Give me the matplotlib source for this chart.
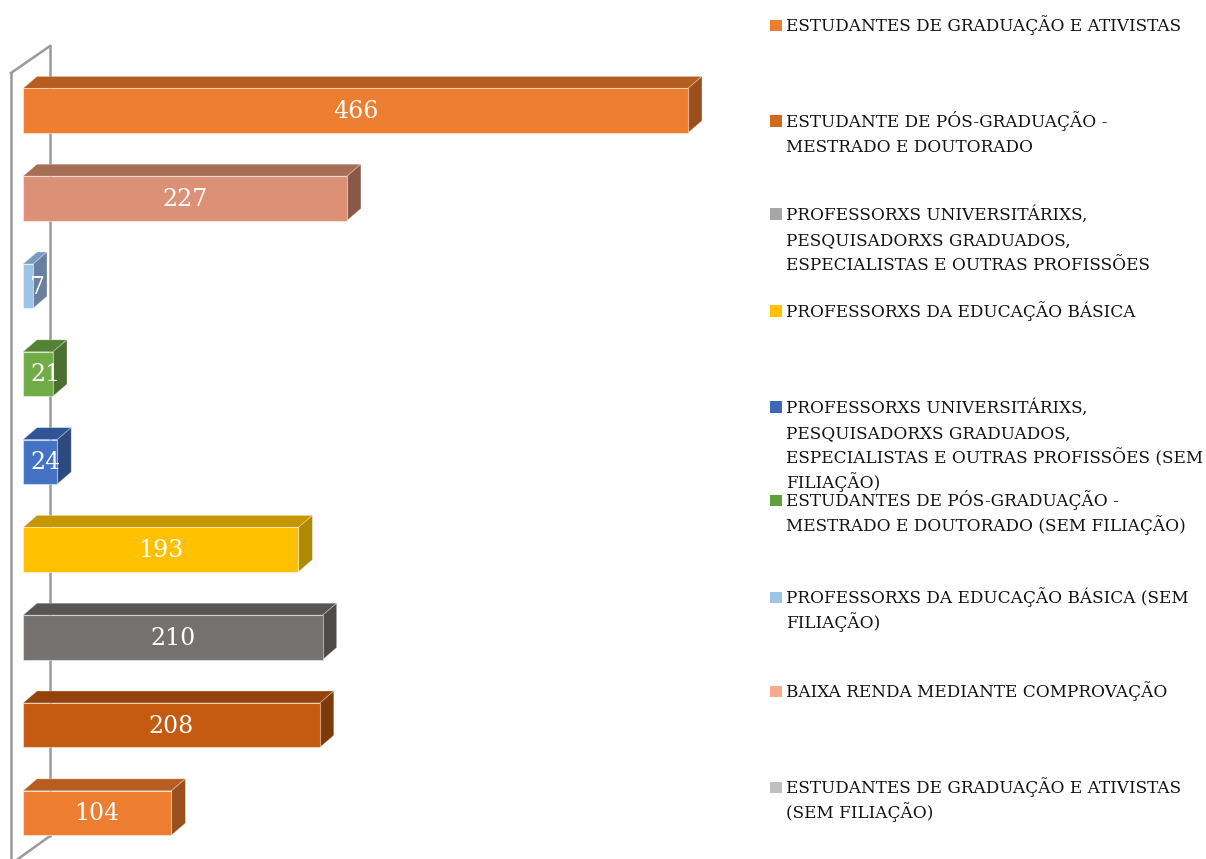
import matplotlib
matplotlib.use("Agg")
import matplotlib.pyplot as plt
from matplotlib.patches import Polygon, Rectangle
from matplotlib.lines import Line2D

# ---------------- data (bottom bar first) ----------------
values = [104, 208, 210, 193, 24, 21, 7, 227, 466]
front_colors = ["#ED7D31", "#C55A11", "#767171", "#FFC000", "#4472C4",
                "#70AD47", "#9DC3E6", "#DC9176", "#ED7D31"]
top_colors = ["#B65E22", "#96420C", "#5A5555", "#C89700", "#2F5597",
              "#548235", "#7A9BBE", "#A66E57", "#B65E22"]
side_colors = ["#9A4F1C", "#7F3A0B", "#4E4A4A", "#B08A00", "#2C4A7E",
               "#4A6F2F", "#6880A0", "#8B5848", "#9A4F1C"]

legend_labels = [
    "ESTUDANTES DE GRADUAÇÃO E ATIVISTAS",
    "ESTUDANTE DE PÓS-GRADUAÇÃO -\nMESTRADO E DOUTORADO",
    "PROFESSORXS UNIVERSITÁRIXS,\nPESQUISADORXS GRADUADOS,\nESPECIALISTAS E OUTRAS PROFISSÕES",
    "PROFESSORXS DA EDUCAÇÃO BÁSICA",
    "PROFESSORXS UNIVERSITÁRIXS,\nPESQUISADORXS GRADUADOS,\nESPECIALISTAS E OUTRAS PROFISSÕES (SEM\nFILIAÇÃO)",
    "ESTUDANTES DE PÓS-GRADUAÇÃO -\nMESTRADO E DOUTORADO (SEM FILIAÇÃO)",
    "PROFESSORXS DA EDUCAÇÃO BÁSICA (SEM\nFILIAÇÃO)",
    "BAIXA RENDA MEDIANTE COMPROVAÇÃO",
    "ESTUDANTES DE GRADUAÇÃO E ATIVISTAS\n(SEM FILIAÇÃO)",
]
legend_colors = ["#ED7D31", "#D2691F", "#A5A5A5", "#FFC000", "#3E67B4",
                 "#5FA03A", "#9DC3E6", "#F4AC8C", "#BFBFBF"]

# ---------------- layout ----------------
W, H = 1206, 859
fig = plt.figure(figsize=(W / 100, H / 100), dpi=100)
fig.patch.set_facecolor("white")

px_per_unit = 1.427
x_left_px = 23
x0 = -x_left_px / px_per_unit
x1 = x0 + W / px_per_unit
spacing_px = 87.8
bottom_center_px = H - 813  # from bottom
y0 = -bottom_center_px / spacing_px
y1 = y0 + H / spacing_px

ax = fig.add_axes([0, 0, 1, 1])
ax.set_xlim(x0, x1)
ax.set_ylim(y0, y1)
ax.axis("off")

def px(xp, yp_top):
    return xp / 100, (H - yp_top) / 100

# wall lines, drawn behind the bars
wall_color = "#9a9a9a"
for (xa, ya), (xb, yb) in [((11, 73), (11, 859)), ((11, 73), (50, 46)),
                           ((50, 46), (50, 836)), ((50, 836), (18, 859))]:
    a = px(xa, ya); b = px(xb, yb)
    ax.add_line(Line2D([a[0], b[0]], [a[1], b[1]], transform=fig.dpi_scale_trans,
                       color=wall_color, lw=1.8, zorder=1))

bar_h = 44.4 / spacing_px
dx = 14 / px_per_unit
dy = 12 / spacing_px

serif = "DejaVu Serif"
for i, v in enumerate(values):
    yb = i - bar_h / 2
    yt = i + bar_h / 2
    ax.barh(i, v, height=bar_h, left=0, color=front_colors[i],
            edgecolor=(1, 1, 1, 0.45), linewidth=0.8, zorder=3)
    top = Polygon([(0, yt), (v, yt), (v + dx, yt + dy), (dx, yt + dy)], closed=True,
                  facecolor=top_colors[i], edgecolor=(1, 1, 1, 0.35), linewidth=0.6, zorder=2)
    side = Polygon([(v, yb), (v, yt), (v + dx, yt + dy), (v + dx, yb + dy)], closed=True,
                   facecolor=side_colors[i], edgecolor=(1, 1, 1, 0.35), linewidth=0.6, zorder=2)
    ax.add_patch(top)
    ax.add_patch(side)
    if v * px_per_unit < 60:
        ax.text(5.0, i - 0.01, str(v), ha="left", va="center", color="white",
                fontsize=17, family=serif, zorder=5)
    else:
        ax.text(v / 2, i - 0.01, str(v), ha="center", va="center", color="white",
                fontsize=17, family=serif, zorder=5)

# legend
legend_y = [25, 121, 214, 311, 407, 500, 597, 691, 787]
line_step = 25.0
for lab, col, yc in zip(legend_labels, legend_colors, legend_y):
    sx, sy = px(770, yc + 5.5)
    fig.add_artist(Rectangle((sx, sy), 0.115, 0.11, transform=fig.dpi_scale_trans,
                             facecolor=col, edgecolor="none"))
    for k, line in enumerate(lab.split("\n")):
        tx, ty = px(786, yc + 6.2 + k * line_step)
        fig.text(tx / (W / 100), ty / (H / 100), line, ha="left", va="baseline",
                 fontsize=12.2, family=serif, color="#111111")

fig.savefig("out.png", dpi=100, facecolor="white")
